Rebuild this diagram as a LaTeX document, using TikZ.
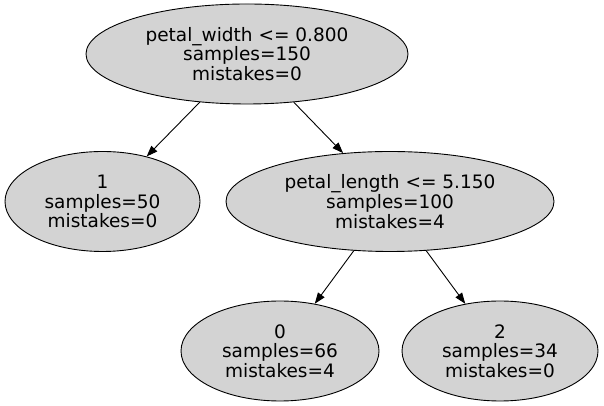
\documentclass[tikz,border=0pt]{standalone}
\usepackage{fontspec}
\setmainfont{DejaVu Sans}
\usetikzlibrary{shapes.geometric,arrows.meta}
\tikzset{
  treenode/.style={ellipse, draw=black, fill={rgb,255:red,211;green,211;blue,211}, line width=0.9pt,
    inner sep=0pt, align=center, font=\fontsize{18.5}{19.7}\selectfont},
  edge/.style={line width=0.9pt, -{Triangle[length=11pt,width=8pt]}, shorten >=0pt}
}
\begin{document}
\begin{tikzpicture}[x=1pt,y=1pt]
\useasboundingbox (0,0) rectangle (604,406);
\node[treenode, minimum width=322pt, minimum height=100pt] (root) at (247,352) {petal\_width <= 0.800\\samples=150\\mistakes=0};
\node[treenode, minimum width=195pt, minimum height=100pt] (n1) at (102.5,204.5) {1\\samples=50\\mistakes=0};
\node[treenode, minimum width=328pt, minimum height=100pt] (n2) at (390,204.5) {petal\_length <= 5.150\\samples=100\\mistakes=4};
\node[treenode, minimum width=198pt, minimum height=100pt] (n0) at (280,55) {0\\samples=66\\mistakes=4};
\node[treenode, minimum width=196pt, minimum height=100pt] (n3) at (500,55) {2\\samples=34\\mistakes=0};
\draw[edge] (root) -- (n1);
\draw[edge] (root) -- (n2);
\draw[edge] (n2) -- (n0);
\draw[edge] (n2) -- (n3);
\end{tikzpicture}
\end{document}
